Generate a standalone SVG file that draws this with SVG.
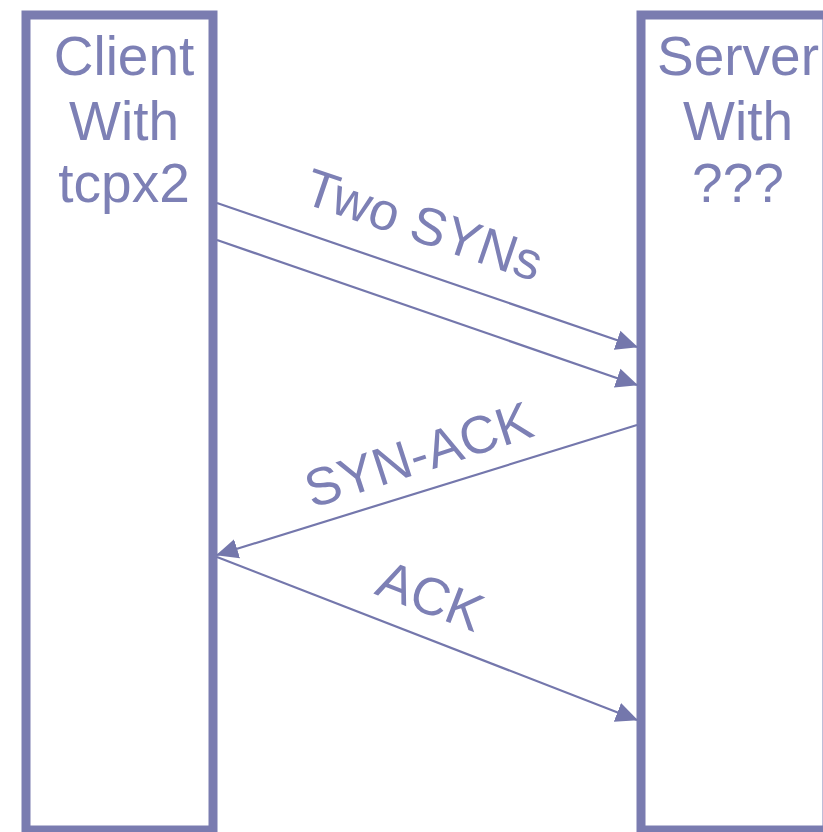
<svg xmlns="http://www.w3.org/2000/svg" width="823" height="832" viewBox="0 0 823 832">
  <style>
    .box { fill: #ffffff; stroke: #7a7cb0; stroke-width: 9; }
    .title { font-family: "Liberation Sans", Arial, sans-serif; font-size: 55px; fill: #7d80b5; text-anchor: middle; }
    .msg { font-family: "Liberation Sans", Arial, sans-serif; font-size: 53px; fill: #7d80b5; text-anchor: middle; }
    .link { stroke: #7477ac; stroke-width: 2.2; fill: none; }
  </style>
  <defs>
    <marker id="arrow" markerUnits="userSpaceOnUse" markerWidth="22" markerHeight="22" viewBox="0 0 22 22" refX="21" refY="11" orient="auto">
      <path d="M0,1 L22,11 L0,21 Z" fill="#7477ac"/>
    </marker>
  </defs>
  <rect width="823" height="832" fill="#ffffff"/>

  <g id="client">
    <rect class="box" x="26" y="15" width="187" height="815"/>
    <text class="title" x="124" y="75">Client</text>
    <text class="title" x="124" y="140">With</text>
    <text class="title" x="124" y="202">tcpx2</text>
  </g>

  <g id="server">
    <rect class="box" x="641" y="15" width="186" height="815"/>
    <text class="title" x="738" y="75">Server</text>
    <text class="title" x="738" y="140">With</text>
    <text class="title" x="738" y="202">???</text>
  </g>

  <g id="connectors">
    <line class="link" x1="217" y1="203" x2="637" y2="347" marker-end="url(#arrow)"/>
    <line class="link" x1="217" y1="240" x2="637" y2="385" marker-end="url(#arrow)"/>
    <line class="link" x1="637" y1="425" x2="217" y2="555" marker-end="url(#arrow)"/>
    <line class="link" x1="217" y1="557" x2="637" y2="720" marker-end="url(#arrow)"/>
  </g>

  <g id="labels">
    <text class="msg" transform="translate(418,242) rotate(18.8)">Two SYNs</text>
    <text class="msg" transform="translate(424,472) rotate(-18)">SYN-ACK</text>
    <text class="msg" transform="translate(424,613) rotate(21)">ACK</text>
  </g>
</svg>
